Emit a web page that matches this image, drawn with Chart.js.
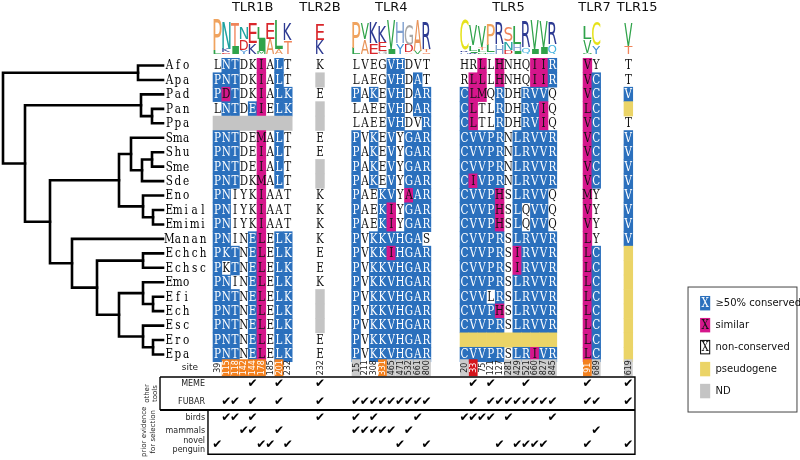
<!DOCTYPE html>
<html>
<head>
<meta charset="utf-8">
<script src="https://cdn.jsdelivr.net/npm/chart.js"></script>
<style>
  body { margin: 0; background: #fff; }
</style>
</head>
<body>
<canvas id="canvas" width="800" height="460"></canvas>
<script>
// taxa, top to bottom
var taxa = ['Afo','Apa','Pad','Pan','Ppa','Sma','Shu','Sme','Sde','Eno','Emial','Emimi',
            'Manan','Echch','Echsc','Emo','Efi','Ech','Esc','Ero','Epa'];
var genes = ['TLR1B','TLR2B','TLR4','TLR5','TLR7','TLR15'];

// residues per taxon and their class: b = >50% conserved, m = similar,
// w = non-conserved, y = pseudogene, g = ND
var tlr1bSeq = ['LNTDKIALT','PNTDKIALT','PDTDKIALK','LNTDEIELK','---------','PNTDEMALT','PNTDEIALT',
  'PNTDEIALT','PNTDKMALT','PNIYKIAAT','PNIYKIAAT','PNIYKIAAT','PNINELELK','PKTNELELK','PKTNELELK',
  'PNINELELK','PNTNELELK','PNTNELELK','PNTNELELK','PNTNELELK','PNTNELELK'];
var tlr1bCls = ['wbbwwmwbw','bbbwwmwbw','bmbwwmwbb','wbbwbmwbb','ggggggggg','bbbwwmwbw','bbbwwmwbw',
  'bbbwwmwbw','bbbwwmwbw','bbwwwmwww','bbwwwmwww','bbwwwmwww','bbwwbmwbb','bbbwbmwbb','bwbwbmwbb',
  'bbwwbmwbb','bbbwbmwbb','bbbwbmwbb','bbbwbmwbb','bbbwbmwbb','bbbwbmwbb'];

var tlr2bSeq = ['K','-','E','-','-','E','E','-','-','K','K','K','K','E','E','K','-','-','-','E','E'];
var tlr2bCls = ['w','g','w','g','g','w','w','g','g','w','w','w','w','w','w','w','g','g','g','w','w'];

var tlr4Seq = ['LVEGVHDVT','LAEGVHDAT','PAKEVHDAR','LAEEVHDAR','LAEEVHDVR','PVKEVYGAR','PAKEVYGAR',
  'PAKEVYGAR','PAKEVYGAR','PAEKVYAAR','PAEKIYGAR','PAEKIYGAR','PVKKVHGAS','PVKKIHGAR','PVKKVHGAR',
  'PVKKVHGAR','PVKKVHGAR','PVKKVHGAR','PVKKVHGAR','PVKKVHGAR','PVKKVHGAR'];
var tlr4Cls = ['wwwwbbwww','wwwwbbwbw','bwbwbbwbb','wwwwbbwbb','wwwwbbwwb','bwbwbwbbb','bwbwbwbbb',
  'bwbwbwbbb','bwbwbwbbb','bwwbbwmbb','bwwbmwbbb','bwwbmwbbb','bwbbbbbbw','bwbbmbbbb','bwbbbbbbb',
  'bwbbbbbbb','bwbbbbbbb','bwbbbbbbb','bwbbbbbbb','bwbbbbbbb','bwbbbbbbb'];

var tlr5Seq = ['HRLLHNHQIIR','RLLLHNHQIIR','CLMQRDHRVVQ','CLTLRDHRVIQ','CLTLRDHRVIQ','CVVPRNLRVVR',
  'CVVPRNLRVVR','CVVPRNLRVVR','CIVPRNLRVVR','CVVPHSLRVVQ','CVVPHSLQVVQ','CVVPHSLQVVQ','CVVPRSLRVVR',
  'CVVPRSIRVVR','CVVPRSIRVVR','CVVPRSLRVVR','CVVLRSLRVVR','CVVPHSLRVVR','CVVPRSLRVVR','-----------',
  'CVVPRSLRIVR'];
var tlr5Cls = ['wwmwmwwwmmb','wmmwmwwwmmb','bmmwbwwbbbw','bmwwbwwbbmw','bmwwbwwbbmw','bbbbbwbbbbb',
  'bbbbbwbbbbb','bbbbbwbbbbb','bmbbbwbbbbb','bbbbmwbbbbw','bbbbmwbwbbw','bbbbmwbwbbw','bbbbbwbbbbb',
  'bbbbbwmbbbb','bbbbbwmbbbb','bbbbbwbbbbb','bbbwbwbbbbb','bbbbmwbbbbb','bbbbbwbbbbb','yyyyyyyyyyy',
  'bbbbbwbbmbb'];

var tlr7Seq = ['VY','VC','VC','LC','VC','VC','VC','VC','VC','MY','VY','VY','LY','LC','LC','LC','LC','LC','LC','LC','LC'];
var tlr7Cls = ['mw','mb','mb','mb','mb','mb','mb','mb','mb','mw','mw','mw','mw','mb','mb','mb','mb','mb','mb','mb','mb'];

var tlr15Seq = ['T','T','V','-','T','V','V','V','V','V','V','V','V','-','-','-','-','-','-','-','-'];
var tlr15Cls = ['w','w','b','y','w','b','b','b','b','b','b','b','b','y','y','y','y','y','y','y','y'];

// alignment sites; tag: o = orange, r = red, g = grey
var tlr1bSites = [39,115,118,142,144,178,185,201,232];
var tlr1bTags  = ['','o','o','o','o','o','','o',''];
var tlr2bSites = [232];
var tlr2bTags  = [''];
var tlr4Sites  = [15,211,308,331,465,471,532,661,800];
var tlr4Tags   = ['g','','','o','g','g','g','g','g'];
var tlr5Sites  = [20,33,75,121,127,281,429,521,660,827,845];
var tlr5Tags   = ['g','r','','','','g','g','g','g','g','g'];
var tlr7Sites  = [91,689];
var tlr7Tags   = ['o','g'];
var tlr15Sites = [619];
var tlr15Tags  = ['g'];

// evidence for selection (gene:site)
var memeHits = ['TLR1B:144','TLR1B:201','TLR2B:232','TLR5:33','TLR5:121','TLR5:521','TLR7:91','TLR15:619'];
var fubarHits = ['TLR1B:115','TLR1B:118','TLR1B:144','TLR1B:201','TLR2B:232',
  'TLR4:15','TLR4:211','TLR4:308','TLR4:331','TLR4:465','TLR4:471','TLR4:532','TLR4:661','TLR4:800',
  'TLR5:33','TLR5:121','TLR5:127','TLR5:281','TLR5:429','TLR5:521','TLR5:660','TLR5:827','TLR5:845',
  'TLR7:91','TLR7:689','TLR15:619'];
var birdHits = ['TLR1B:115','TLR1B:118','TLR1B:144','TLR2B:232','TLR4:15','TLR4:308','TLR4:661',
  'TLR5:20','TLR5:33','TLR5:75','TLR5:121','TLR5:281','TLR5:845'];
var mammalHits = ['TLR1B:142','TLR1B:144','TLR1B:201','TLR4:15','TLR4:211','TLR4:308','TLR4:331',
  'TLR4:465','TLR4:532','TLR7:689'];
var penguinHits = ['TLR1B:39','TLR1B:178','TLR1B:185','TLR1B:232','TLR4:471','TLR4:800',
  'TLR5:127','TLR5:429','TLR5:521','TLR5:660','TLR5:827','TLR7:91','TLR15:619'];

var legendLabels = ['\u226550% conserved','similar','non-conserved','pseudogene','ND'];

// tree: [node depth, children...]
var leafDepth = 160;
var tree = [0,
  [135,'Afo','Apa'],
  [22,
    [138,'Pad',[149,'Pan','Ppa']],
    [47,
      [116,
        [128,'Sma',[139,[149,'Shu','Sme'],'Sde']],
        [140,'Eno',[150,'Emial','Emimi']]],
      [69,'Manan',
        [94,[140,'Echch','Echsc'],
            [116,[140,'Emo',[150,'Efi','Ech']],[140,'Esc',[150,'Ero','Epa']]]]]]]];

var seqs  = [tlr1bSeq, tlr2bSeq, tlr4Seq, tlr5Seq, tlr7Seq, tlr15Seq];
var clss  = [tlr1bCls, tlr2bCls, tlr4Cls, tlr5Cls, tlr7Cls, tlr15Cls];
var sites = [tlr1bSites, tlr2bSites, tlr4Sites, tlr5Sites, tlr7Sites, tlr15Sites];
var tags  = [tlr1bTags, tlr2bTags, tlr4Tags, tlr5Tags, tlr7Tags, tlr15Tags];
var hits  = [memeHits, fubarHits, birdHits, mammalHits, penguinHits];

// layout (column units / row units)
var geneStart = [0, 11.66, 15.76, 28.07, 42.05, 46.7];
var titleShift = [0, 0, 0, 0, 0.3, 1.0];
var hitRows = [22.05, 23.3, 24.4, 25.3, 26.28];

var cellColor = { b: '#2b70bd', m: '#d5168b', y: '#ebd467', g: '#c4c4c4' };
var tagColor = { o: '#f3811f', r: '#d4141b', g: '#cccccc' };
var aaColor = { A:'#e8945a', C:'#e6e21a', D:'#d9262b', E:'#d9262b', G:'#a8a8a8', H:'#7f9fcf',
  I:'#2fa34a', K:'#2d3a92', L:'#2fa34a', M:'#2fa34a', N:'#1fa3a0', P:'#f0a35e', Q:'#49b5e0',
  R:'#2d3a92', S:'#f0845a', T:'#f0845a', V:'#2fa34a', Y:'#3f8fd6' };

function monoChar(c, ch, x, y, color) {
  c.save();
  c.translate(x, y);
  c.scale(0.8, 1);
  c.fillStyle = color;
  c.font = '13px "DejaVu Serif"';
  c.textAlign = 'center'; c.textBaseline = 'middle';
  c.fillText(ch, 0, 0);
  c.restore();
}

var alignPlugin = {
  id: 'align',
  afterDraw: function(chart) {
    var c = chart.ctx;
    var sx = chart.scales.x, st = chart.scales.xt, sy = chart.scales.y;
    var X = function(v){ return sx.getPixelForValue(v); };
    var T = function(v){ return st.getPixelForValue(v); };
    var Y = function(v){ return sy.getPixelForValue(v); };
    c.save();

    // tree
    function lay(n) {
      if (typeof n === 'string') return { y: taxa.indexOf(n), d: leafDepth };
      var kids = n.slice(1).map(lay);
      return { y: (kids[0].y + kids[kids.length-1].y) / 2, d: n[0], kids: kids };
    }
    c.strokeStyle = '#000'; c.lineWidth = 2.6; c.lineCap = 'square';
    (function draw(n) {
      if (!n.kids) return;
      c.beginPath();
      c.moveTo(T(n.d), Y(n.kids[0].y)); c.lineTo(T(n.d), Y(n.kids[n.kids.length-1].y));
      n.kids.forEach(function(k){ c.moveTo(T(n.d), Y(k.y)); c.lineTo(T(k.d), Y(k.y)); });
      c.stroke();
      n.kids.forEach(draw);
    })(lay(tree));

    // taxon labels
    taxa.forEach(function(t, r){
      for (var i = 0; i < t.length; i++) monoChar(c, t[i], T(leafDepth) + 6.4 + i * 8.4, Y(r) + 0.5, '#000');
    });

    genes.forEach(function(g, gi) {
      var s = seqs[gi], k = clss[gi], off = geneStart[gi], n = s[0].length;
      // cells
      for (var r = 0; r < taxa.length; r++) {
        for (var j = 0; j < n; j++) {
          var cl = k[r][j], x0 = X(off + j), x1 = X(off + j + 1), y0 = Y(r - 0.5), y1 = Y(r + 0.5);
          if (cellColor[cl]) {
            c.fillStyle = cellColor[cl];
            c.fillRect(x0 - 0.3, y0 - 0.3, x1 - x0 + 0.6, y1 - y0 + 0.6);
          }
          if (cl === 'b' || cl === 'm' || cl === 'w') {
            monoChar(c, s[r][j], (x0 + x1) / 2, (y0 + y1) / 2 + 0.5, cl === 'b' ? '#fff' : '#111');
          }
        }
      }
      // sequence logo
      for (var j = 0; j < n; j++) {
        var cnt = {}, tot = 0;
        for (var r = 0; r < taxa.length; r++) {
          var cl = k[r][j];
          if (cl === 'g' || cl === 'y') continue;
          cnt[s[r][j]] = (cnt[s[r][j]] || 0) + 1; tot++;
        }
        var H = 0, aas = Object.keys(cnt);
        aas.forEach(function(a){ var p = cnt[a] / tot; H -= p * Math.log2(p); });
        var ic = Math.log2(20) - H;
        aas.sort(function(a, b){ return cnt[a] - cnt[b]; });
        var base = -0.8;
        aas.forEach(function(a){
          var h = cnt[a] / tot * ic * 0.64;
          var yb = Y(base), yt = Y(base - h);
          base -= h;
          if (yb - yt < 0.6) return;
          var xl = X(off + j) + 0.2, xr = X(off + j + 1) - 0.2;
          c.font = '40px "DejaVu Sans"';
          c.textAlign = 'left'; c.textBaseline = 'alphabetic';
          var m = c.measureText(a);
          var L = m.actualBoundingBoxLeft, R = m.actualBoundingBoxRight;
          var A = m.actualBoundingBoxAscent, D = m.actualBoundingBoxDescent;
          c.save();
          c.translate(xl, yt);
          c.scale((xr - xl) / (L + R), (yb - yt) / (A + D));
          c.fillStyle = aaColor[a] || '#888';
          c.fillText(a, L, A);
          c.restore();
        });
      }
      // title
      c.fillStyle = '#111'; c.font = '13px "DejaVu Sans"';
      c.textAlign = 'center'; c.textBaseline = 'middle';
      c.fillText(g, X(off + n / 2 + titleShift[gi]), Y(-3.98));
      // site row
      sites[gi].forEach(function(v, j){
        var x0 = X(off + j), x1 = X(off + j + 1), y0 = Y(20.33), y1 = Y(21.5);
        var tg = tags[gi][j];
        if (tagColor[tg]) { c.fillStyle = tagColor[tg]; c.fillRect(x0, y0, x1 - x0, y1 - y0); }
        c.save();
        c.translate((x0 + x1) / 2, (y0 + y1) / 2);
        c.rotate(-Math.PI / 2);
        c.fillStyle = (tg === 'o' || tg === 'r') ? '#fff' : '#222';
        c.font = '8px "DejaVu Sans"';
        c.fillText(String(v), 0, 0.5);
        c.restore();
      });
    });

    // site label
    c.fillStyle = '#222'; c.font = '9px "DejaVu Sans"'; c.textAlign = 'right';
    c.fillText('site', X(-1.7), Y(20.9));

    // evidence box
    c.strokeStyle = '#000'; c.lineWidth = 1.4; c.lineCap = 'butt';
    c.beginPath();
    c.moveTo(X(-6.02), Y(21.56)); c.lineTo(X(47.95), Y(21.56));
    c.lineTo(X(47.95), Y(26.9)); c.lineTo(X(-0.57), Y(26.9)); c.lineTo(X(-0.57), Y(23.84));
    c.moveTo(X(-6.02), Y(21.56)); c.lineTo(X(-6.02), Y(23.84));
    c.stroke();
    c.lineWidth = 2.2;
    c.beginPath(); c.moveTo(X(-6.02), Y(23.84)); c.lineTo(X(47.95), Y(23.84)); c.stroke();

    c.fillStyle = '#222'; c.font = '8px "DejaVu Sans"'; c.textAlign = 'right'; c.textBaseline = 'middle';
    c.fillText('MEME', X(-0.9), Y(hitRows[0]));
    c.fillText('FUBAR', X(-0.9), Y(hitRows[1]));
    c.fillText('birds', X(-0.9), Y(hitRows[2]));
    c.fillText('mammals', X(-0.9), Y(hitRows[3]));
    c.fillText('novel', X(-0.9), Y(hitRows[4] - 0.32));
    c.fillText('penguin', X(-0.9), Y(hitRows[4] + 0.3));

    function vtext(lines, xc, yc) {
      c.save(); c.translate(xc, yc); c.rotate(-Math.PI / 2);
      c.textAlign = 'center'; c.font = '7px "DejaVu Sans"'; c.fillStyle = '#222';
      lines.forEach(function(l, i){ c.fillText(l, 0, (i - (lines.length - 1) / 2) * 8.5); });
      c.restore();
    }
    vtext(['other', 'tools'], X(-7.05), Y(22.7));
    vtext(['prior evidence', 'for selection'], X(-7.3), Y(25.35));

    // check marks
    c.fillStyle = '#000'; c.font = '12px "DejaVu Sans"'; c.textAlign = 'center';
    hits.forEach(function(list, ri){
      list.forEach(function(h){
        var p = h.split(':'), gi = genes.indexOf(p[0]), j = sites[gi].indexOf(+p[1]);
        c.fillText('\u2714', X(geneStart[gi] + j + 0.5), Y(hitRows[ri]));
      });
    });

    // legend
    c.lineWidth = 1; c.strokeStyle = '#444';
    c.strokeRect(X(53.98), Y(15.33), X(66.36) - X(53.98), Y(23.98) - Y(15.33));
    var sw = ['b', 'm', 'w', 'y', 'g'];
    legendLabels.forEach(function(l, i){
      var yr = 16.45 + 1.52 * i;
      var x0 = X(55.35), x1 = X(56.5), y0 = Y(yr - 0.5), y1 = Y(yr + 0.5);
      if (cellColor[sw[i]]) { c.fillStyle = cellColor[sw[i]]; c.fillRect(x0, y0, x1 - x0, y1 - y0); }
      else { c.strokeStyle = '#000'; c.strokeRect(x0 + 0.5, y0 + 0.5, x1 - x0 - 1, y1 - y0 - 1); }
      if (i < 3) monoChar(c, 'X', (x0 + x1) / 2, (y0 + y1) / 2 + 0.5, i === 0 ? '#fff' : '#111');
      c.fillStyle = '#111'; c.font = '10px "DejaVu Sans"'; c.textAlign = 'left'; c.textBaseline = 'middle';
      c.fillText(l, X(57.1), Y(yr));
    });

    c.restore();
  }
};

var ctx = document.getElementById('canvas').getContext('2d');
var chart = new Chart(ctx, {
  type: 'scatter',
  data: { datasets: [{ data: [] }] },
  options: {
    responsive: false,
    animation: false,
    layout: { padding: 0 },
    plugins: { legend: { display: false }, tooltip: { enabled: false } },
    scales: {
      x:  { type: 'linear', display: false, min: -213 / 8.8, max: (800 - 213) / 8.8 },
      xt: { type: 'linear', display: false, position: 'bottom', min: -3, max: 797 },
      y:  { type: 'linear', display: false, reverse: true, min: -65.5 / 14.45, max: (460 - 65.5) / 14.45 }
    }
  },
  plugins: [alignPlugin]
});
</script>
</body>
</html>
